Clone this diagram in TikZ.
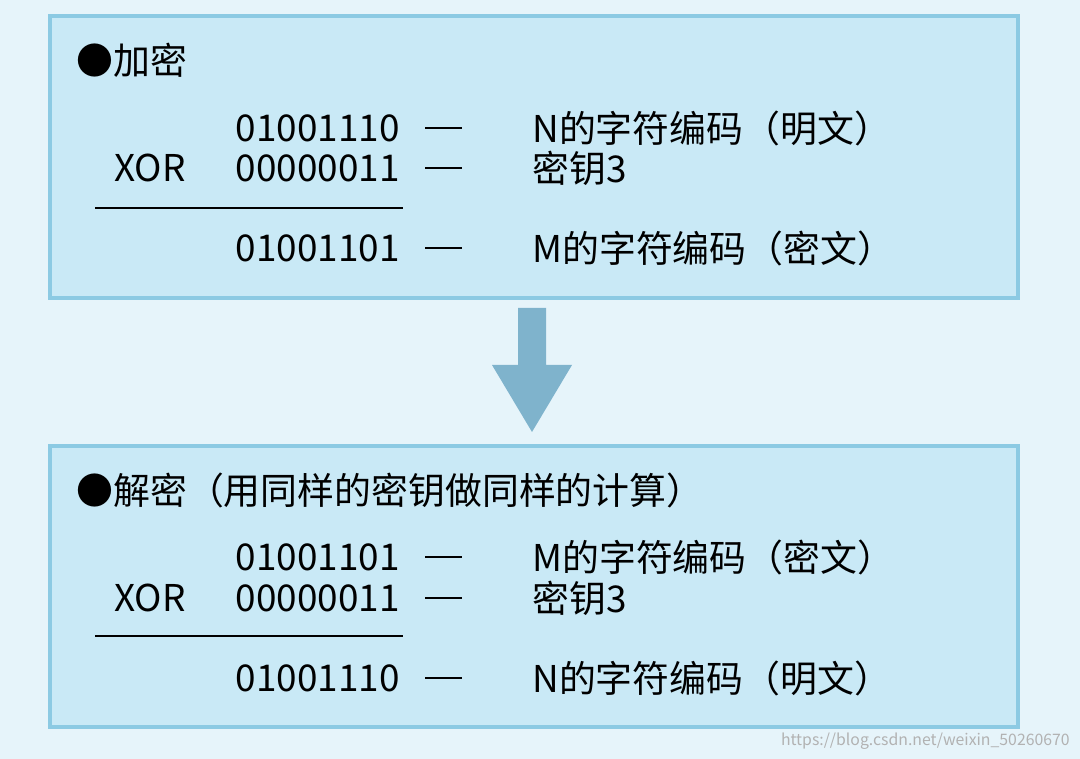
\documentclass[tikz,border=0pt]{standalone}
\usepackage{fontspec}
\setmainfont{Noto Sans CJK SC}
\usetikzlibrary{positioning}
\definecolor{bgblue}{HTML}{E6F4FA}
\definecolor{boxfill}{HTML}{C9E9F6}
\definecolor{boxline}{HTML}{8CCAE3}
\definecolor{arrowblue}{HTML}{7FB3CC}
\tikzset{
  panel/.style={draw=boxline, line width=2.5pt, fill=boxfill},
  bits/.style={anchor=east, inner sep=0pt, font=\fontsize{21}{25}\selectfont},
  note/.style={anchor=west, inner sep=0pt, font=\fontsize{21}{25}\selectfont},
  link/.style={line width=0.8pt, shorten <=18\pgflinewidth, shorten >=40\pgflinewidth},
}
\begin{document}
\begin{tikzpicture}[x=0.02cm, y=-0.02cm]
    \fill[bgblue] (0,0) rectangle (1080,759);
    \useasboundingbox (0,0) rectangle (1080,759);

    % upper panel
    \draw[panel] (50,16) rectangle (1018,298);
    \node[note] (t1) at (76,60) {●加密};
    \node[bits] (a1) at (400,128) {01001110};
    \node[bits] (a2) at (400,168) {00000011};
    \node[bits] (a3) at (400,248) {01001101};
    \node[bits] (x1) at (186,168) {XOR};
    \node[note] (p1) at (532,128) {N的字符编码（明文）};
    \node[note] (p2) at (532,168) {密钥3};
    \node[note] (p3) at (532,248) {M的字符编码（密文）};
    \coordinate (r1a) at (95,208);
    \coordinate (r1b) at (403,208);
    \draw[line width=1.2pt] (r1a) -- (r1b);
    \foreach \i in {1,2,3}
        \draw[line width=0.8pt] ([xshift=18\pgflinewidth]a\i.east) -- ([xshift=-40]p\i.west);

    % arrow
    \fill[arrowblue] (518,308) -- (546,308) -- (546,365) -- (572,365) -- (532,432) -- (492,365) -- (518,365) -- cycle;

    % lower panel
    \draw[panel] (50,446) rectangle (1018,727);
    \node[note] (t2) at (76,490) {●解密（用同样的密钥做同样的计算）};
    \node[bits] (b1) at (400,557) {01001101};
    \node[bits] (b2) at (400,598) {00000011};
    \node[bits] (b3) at (400,678) {01001110};
    \node[bits] (x2) at (186,598) {XOR};
    \node[note] (q1) at (532,557) {M的字符编码（密文）};
    \node[note] (q2) at (532,598) {密钥3};
    \node[note] (q3) at (532,678) {N的字符编码（明文）};
    \coordinate (r2a) at (95,636);
    \coordinate (r2b) at (403,636);
    \draw[line width=1.2pt] (r2a) -- (r2b);
    \foreach \i in {1,2,3}
        \draw[line width=0.8pt] ([xshift=18\pgflinewidth]b\i.east) -- ([xshift=-40]q\i.west);

    \node[anchor=east, inner sep=0pt, text=gray!60, font=\fontsize{9}{11}\selectfont] (wm) at (1070,741) {https://blog.csdn.net/weixin\_50260670};
\end{tikzpicture}
\end{document}
